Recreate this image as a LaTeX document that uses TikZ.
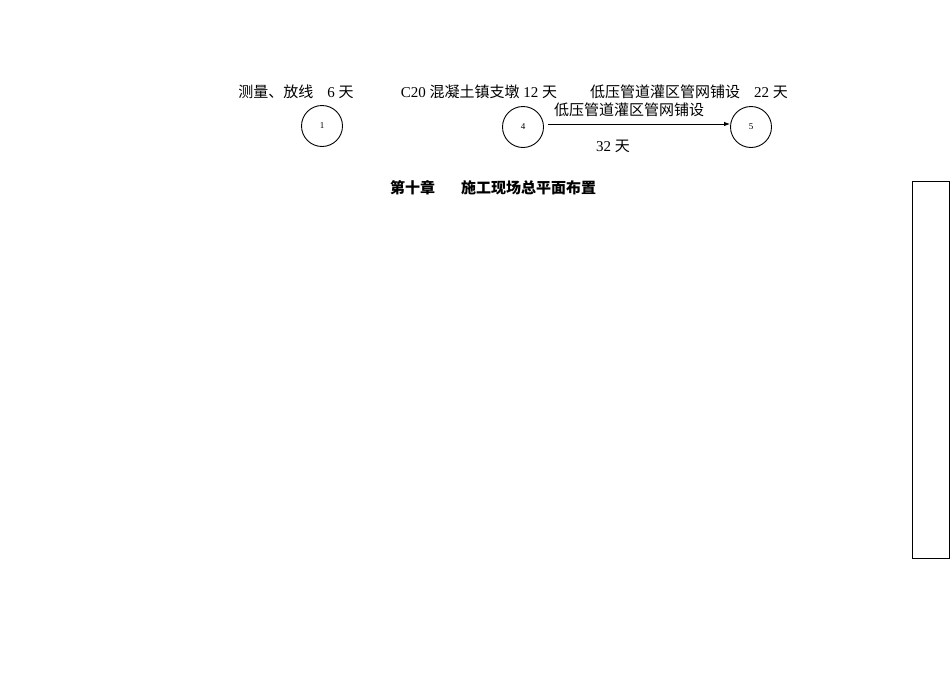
\documentclass[tikz,border=0pt]{standalone}
\usepackage{fontspec}
\setmainfont{Liberation Serif}
\newfontfamily\cjk{Noto Sans CJK SC}
\usetikzlibrary{arrows.meta}
\begin{document}
\begin{tikzpicture}[x=1pt,y=-1pt,
  lab/.style={font=\fontsize{15}{18}\selectfont, inner sep=0pt, anchor=base},
  ev/.style={circle, draw, line width=0.9pt, minimum size=41pt, inner sep=0pt, font=\fontsize{9}{10}\selectfont},
  act/.style={-{Latex[length=6pt,width=4.5pt]}, line width=0.9pt}]
\useasboundingbox (0,0) rectangle (950,672);
\node[lab] (t1) at (296,97) {{\cjk 测量、放线}\hspace{14pt}6 {\cjk 天}};
\node[lab] (t2) at (479,97) {C20 {\cjk 混凝土镇支墩} 12 {\cjk 天}};
\node[lab] (t3) at (689,97) {{\cjk 低压管道灌区管网铺设}\hspace{14pt}22 {\cjk 天}};
\node[ev] (n1) at (322,126) {1};
\node[ev] (n4) at (523,127) {4};
\node[ev] (n5) at (751,127) {5};
\draw[act] (n4.east |- 0,124) ++(4,0) coordinate (a0) -- (n5.west |- 0,124) coordinate (a1);
\node[lab] (al) at (629,115) {\cjk 低压管道灌区管网铺设};
\node[lab] (ad) at (613,151) {32 {\cjk 天}};
\node[lab] (title) at (493,193) {\cjk\bfseries 第十章\hspace{26pt}施工现场总平面布置};
\draw[line width=0.9pt] (912,181) rectangle (949,558);
\end{tikzpicture}
\end{document}
